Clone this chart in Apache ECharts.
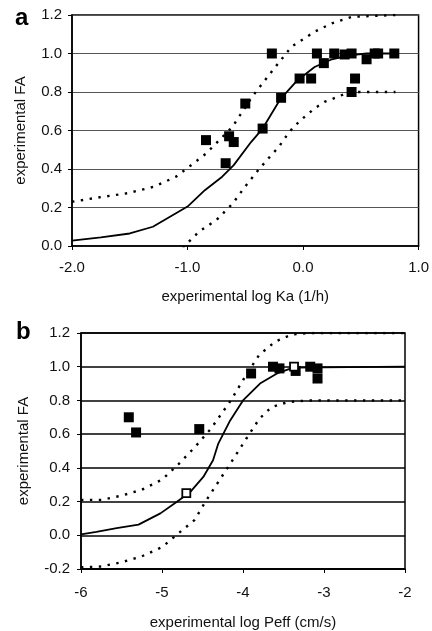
<!DOCTYPE html>
<html><head><meta charset="utf-8">
<script src="https://cdn.jsdelivr.net/npm/echarts@6/dist/echarts.min.js"></script>
<style>html,body{margin:0;padding:0;background:#fff}#c{width:432px;height:631px}</style>
</head><body><div id="c"></div>
<script>
// Panel a: experimental log Ka vs FA
const ptsAX = [-0.84,-0.67,-0.64,-0.60,-0.50,-0.35,-0.27,-0.19,-0.03,0.07,0.12,0.18,0.27,0.36,0.42,0.42,0.45,0.55,0.62,0.65,0.79];
const ptsAY = [0.55,0.43,0.57,0.54,0.74,0.61,1.0,0.77,0.87,0.87,1.0,0.95,1.0,0.995,1.0,0.80,0.87,0.97,1.0,1.0,1.0];
const fitAX = [-2.0,-1.75,-1.5,-1.3,-1.1,-1.0,-0.85,-0.7,-0.6,-0.45,-0.35,-0.2,-0.05,0.1,0.25,0.4,0.55,0.8];
const fitAY = [0.028,0.045,0.065,0.10,0.17,0.205,0.29,0.36,0.42,0.54,0.61,0.76,0.86,0.93,0.97,0.99,1.0,1.0];
const upAX = [-2.0,-1.76,-1.52,-1.29,-1.1,-0.99,-0.84,-0.61,-0.44,-0.24,-0.1,0.1,0.25,0.42,0.8];
const upAY = [0.23,0.253,0.274,0.308,0.36,0.41,0.48,0.62,0.776,0.93,1.035,1.113,1.157,1.19,1.2];
const loAX = [-1.1,-1.06,-0.9,-0.75,-0.61,-0.5,-0.38,-0.3,-0.21,-0.14,-0.08,0.02,0.10,0.19,0.28,0.36,0.42,0.8];
const loAY = [-0.04,-0.02,0.075,0.135,0.22,0.31,0.40,0.455,0.515,0.575,0.62,0.675,0.715,0.75,0.77,0.79,0.80,0.80];
const ticksAX = [-2, -1, 0, 1];
const ticksAY = [0, 0.2, 0.4, 0.6, 0.8, 1.0, 1.2];

// Panel b: experimental log Peff vs FA
const ptsBX = [-5.41,-5.32,-4.54,-3.90,-3.63,-3.55,-3.35,-3.17,-3.08,-3.08];
const ptsBY = [0.70,0.61,0.63,0.96,1.0,0.99,0.975,1.0,0.99,0.93];
const openBX = [-4.70,-3.37];
const openBY = [0.25,1.0];
const fitBX = [-6.0,-5.81,-5.56,-5.29,-5.02,-4.82,-4.65,-4.49,-4.37,-4.305,-4.16,-4.0,-3.79,-3.58,-3.38,-2.0];
const fitBY = [0.006,0.02,0.043,0.063,0.13,0.198,0.257,0.346,0.445,0.544,0.68,0.80,0.90,0.96,0.995,1.0];
const upBX = [-6.0,-5.75,-5.5,-5.25,-5.0,-4.8,-4.6,-4.4,-4.15,-3.95,-3.8,-3.6,-3.4,-3.2,-2.0];
const upBY = [0.21,0.21,0.235,0.27,0.33,0.42,0.52,0.63,0.80,0.96,1.07,1.15,1.19,1.2,1.2];
const loBX = [-6.0,-5.75,-5.5,-5.25,-5.0,-4.8,-4.6,-4.45,-4.3,-4.15,-3.95,-3.8,-3.65,-3.45,-3.2,-2.0];
const loBY = [-0.19,-0.185,-0.16,-0.125,-0.07,0.01,0.09,0.21,0.32,0.43,0.58,0.69,0.76,0.79,0.80,0.80];
const ticksBX = [-6, -5, -4, -3, -2];
const ticksBY = [-0.2, 0, 0.2, 0.4, 0.6, 0.8, 1.0, 1.2];

const zip = (xs, ys) => xs.map((x, i) => [x, ys[i]]);
const FONT = '"Liberation Sans", Arial, sans-serif';
const lab = {fontFamily: FONT, fontSize: 15, color: '#111'};

function xAx(idx, ticks, fmt, name, margin, gap) {
  return {
    type: 'value', gridIndex: idx, min: ticks[0], max: ticks[ticks.length - 1], interval: 1,
    axisLine: {show: true, onZero: false, lineStyle: {color: '#000', width: 1.5}},
    axisTick: {show: true, inside: false, length: 4, lineStyle: {color: '#000'}},
    splitLine: {show: false},
    axisLabel: Object.assign({margin: margin, formatter: fmt}, lab),
    name: name, nameLocation: 'middle', nameGap: gap,
    nameTextStyle: lab
  };
}
function yAx(idx, ticks, gridColor, gridWidth, margin, gap) {
  return {
    type: 'value', gridIndex: idx, min: ticks[0], max: ticks[ticks.length - 1], interval: 0.2,
    axisLine: {show: true, onZero: false, lineStyle: {color: '#000', width: 1.5}},
    axisTick: {show: true, inside: false, length: 4, lineStyle: {color: '#000'}},
    splitLine: {show: true, lineStyle: {color: gridColor, width: gridWidth}},
    axisLabel: Object.assign({margin: margin, formatter: v => v.toFixed(1)}, lab),
    name: 'experimental FA', nameLocation: 'middle', nameGap: gap,
    nameTextStyle: lab
  };
}
function line(idx, xs, ys, dotted) {
  return {
    type: 'line', xAxisIndex: idx, yAxisIndex: idx, data: zip(xs, ys),
    showSymbol: false, symbol: 'none', smooth: false, clip: true, silent: true, z: 3,
    lineStyle: dotted ? {color: '#000', width: 2.4, type: [2.4, 6.5], cap: 'butt', opacity: 1} : {color: '#000', width: 1.8, opacity: 1}
  };
}
function pts(idx, xs, ys, hollow) {
  return {
    type: 'scatter', xAxisIndex: idx, yAxisIndex: idx, data: zip(xs, ys),
    symbol: 'rect', symbolSize: hollow ? 8 : 10, z: hollow ? 6 : 5,
    itemStyle: hollow ? {color: '#fff', borderColor: '#000', borderWidth: 1.8, opacity: 1} : {color: '#000', opacity: 1}
  };
}

const chart = echarts.init(document.getElementById('c'), null, {renderer: 'canvas'});
chart.setOption({
  animation: false,
  backgroundColor: '#fff',
  grid: [
    {left: 72, right: 12, top: 15, height: 231, show: true, borderColor: '#000', borderWidth: 1.5},
    {left: 81, right: 27, top: 333, height: 236, show: true, borderColor: '#000', borderWidth: 1.5}
  ],
  xAxis: [
    xAx(0, ticksAX, v => v.toFixed(1), 'experimental log Ka (1/h)', 14, 43),
    xAx(1, ticksBX, v => String(v), 'experimental log Peff (cm/s)', 16, 46)
  ],
  yAxis: [
    yAx(0, ticksAY, '#555', 1, 10, 44),
    yAx(1, ticksBY, '#000', 1.5, 11, 50)
  ],
  graphic: [
    {type: 'text', left: 15, top: 6, style: {text: 'a', font: 'bold 24px "Liberation Sans", Arial, sans-serif', fill: '#000'}},
    {type: 'text', left: 16, top: 320, style: {text: 'b', font: 'bold 24px "Liberation Sans", Arial, sans-serif', fill: '#000'}}
  ],
  series: [
    line(0, upAX, upAY, true),
    line(0, loAX, loAY, true),
    line(0, fitAX, fitAY, false),
    pts(0, ptsAX, ptsAY, false),
    line(1, upBX, upBY, true),
    line(1, loBX, loBY, true),
    line(1, fitBX, fitBY, false),
    pts(1, ptsBX, ptsBY, false),
    pts(1, openBX, openBY, true)
  ]
});
</script></body></html>
